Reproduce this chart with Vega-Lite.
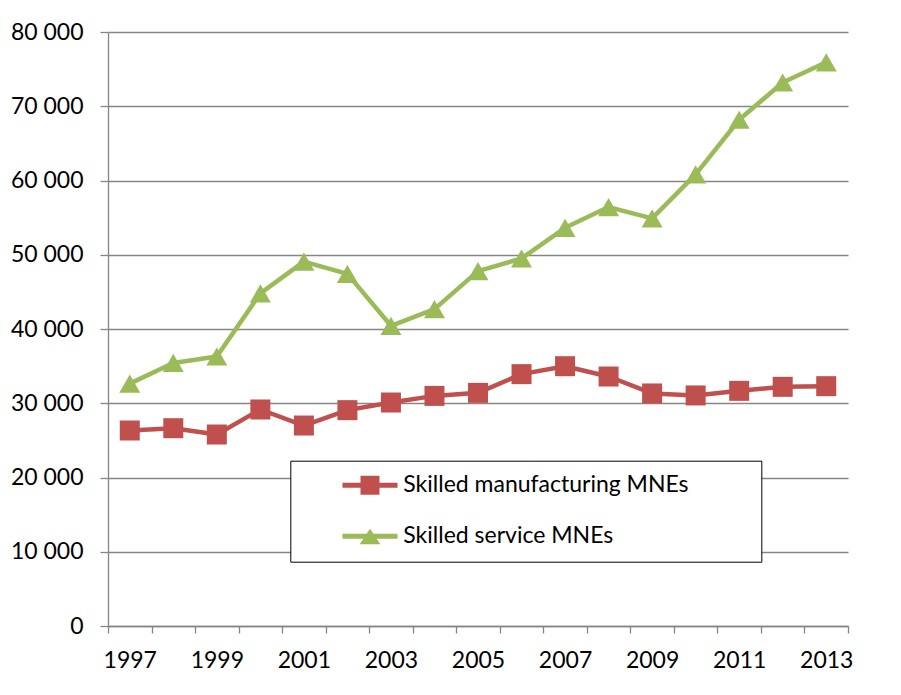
{
  "$schema": "https://vega.github.io/schema/vega-lite/v6.json",
  "width": 740,
  "height": 594,
  "autosize": {"type": "none"},
  "padding": {"left": 108, "top": 32, "right": 53, "bottom": 69},
  "background": "white",
  "config": {
    "view": {"stroke": null},
    "font": "Lato",
    "locale": {"number": {"decimal": ".", "thousands": " ", "grouping": [3], "currency": ["", ""]}},
    "legend": {
      "orient": "none",
      "legendX": 182.3,
      "legendY": 428.7,
      "padding": 13,
      "strokeColor": "black",
      "fillColor": "white",
      "symbolSize": 400,
      "symbolStrokeWidth": 0,
      "symbolOpacity": 1,
      "labelOffset": 77,
      "labelFontSize": 23,
      "labelColor": "black",
      "labelLimit": 600,
      "rowPadding": 27
    }
  },
  "data": {
    "values": [
      {"year": 1997, "series": "Skilled manufacturing MNEs", "value": 26330},
      {"year": 1998, "series": "Skilled manufacturing MNEs", "value": 26640},
      {"year": 1999, "series": "Skilled manufacturing MNEs", "value": 25790},
      {"year": 2000, "series": "Skilled manufacturing MNEs", "value": 29160},
      {"year": 2001, "series": "Skilled manufacturing MNEs", "value": 27000},
      {"year": 2002, "series": "Skilled manufacturing MNEs", "value": 29070},
      {"year": 2003, "series": "Skilled manufacturing MNEs", "value": 30100},
      {"year": 2004, "series": "Skilled manufacturing MNEs", "value": 30990},
      {"year": 2005, "series": "Skilled manufacturing MNEs", "value": 31400},
      {"year": 2006, "series": "Skilled manufacturing MNEs", "value": 33920},
      {"year": 2007, "series": "Skilled manufacturing MNEs", "value": 34990},
      {"year": 2008, "series": "Skilled manufacturing MNEs", "value": 33600},
      {"year": 2009, "series": "Skilled manufacturing MNEs", "value": 31320},
      {"year": 2010, "series": "Skilled manufacturing MNEs", "value": 31050},
      {"year": 2011, "series": "Skilled manufacturing MNEs", "value": 31670},
      {"year": 2012, "series": "Skilled manufacturing MNEs", "value": 32210},
      {"year": 2013, "series": "Skilled manufacturing MNEs", "value": 32300},
      {"year": 1997, "series": "Skilled service MNEs", "value": 32640},
      {"year": 1998, "series": "Skilled service MNEs", "value": 35430},
      {"year": 1999, "series": "Skilled service MNEs", "value": 36300},
      {"year": 2000, "series": "Skilled service MNEs", "value": 44790},
      {"year": 2001, "series": "Skilled service MNEs", "value": 49080},
      {"year": 2002, "series": "Skilled service MNEs", "value": 47430},
      {"year": 2003, "series": "Skilled service MNEs", "value": 40430},
      {"year": 2004, "series": "Skilled service MNEs", "value": 42680},
      {"year": 2005, "series": "Skilled service MNEs", "value": 47800},
      {"year": 2006, "series": "Skilled service MNEs", "value": 49500},
      {"year": 2007, "series": "Skilled service MNEs", "value": 53630},
      {"year": 2008, "series": "Skilled service MNEs", "value": 56420},
      {"year": 2009, "series": "Skilled service MNEs", "value": 54900},
      {"year": 2010, "series": "Skilled service MNEs", "value": 60820},
      {"year": 2011, "series": "Skilled service MNEs", "value": 68180},
      {"year": 2012, "series": "Skilled service MNEs", "value": 73200},
      {"year": 2013, "series": "Skilled service MNEs", "value": 75920}
    ]
  },
  "encoding": {
    "x": {
      "field": "year",
      "type": "quantitative",
      "scale": {"domain": [1996.5, 2013.5], "nice": false, "zero": false},
      "axis": {
        "title": null,
        "values": [1996.5, 1997.5, 1998.5, 1999.5, 2000.5, 2001.5, 2002.5, 2003.5, 2004.5, 2005.5, 2006.5, 2007.5, 2008.5, 2009.5, 2010.5, 2011.5, 2012.5, 2013.5],
        "labelExpr": "(datum.value + 0.5) % 2 == 1 && datum.value < 2013 ? '' + (datum.value + 0.5) : ''",
        "labelOffset": 21.76,
        "grid": false,
        "domainColor": "#868686",
        "domainWidth": 1.3,
        "tickColor": "#868686",
        "tickWidth": 1.3,
        "tickSize": 7,
        "labelFontSize": 23,
        "labelColor": "black",
        "labelPadding": 16,
        "labelOverlap": false,
        "labelFlush": false,
        "labelBound": false
      }
    },
    "y": {
      "field": "value",
      "type": "quantitative",
      "scale": {"domain": [0, 80000], "nice": false},
      "axis": {
        "title": null,
        "values": [0, 10000, 20000, 30000, 40000, 50000, 60000, 70000, 80000],
        "format": ",d",
        "grid": true,
        "gridColor": "#868686",
        "gridWidth": 1.3,
        "domainColor": "#868686",
        "domainWidth": 1.3,
        "tickColor": "#868686",
        "tickWidth": 1.3,
        "tickSize": 8,
        "labelFontSize": 23,
        "labelColor": "black",
        "labelPadding": 17
      }
    },
    "color": {
      "field": "series",
      "type": "nominal",
      "scale": {"domain": ["Skilled manufacturing MNEs", "Skilled service MNEs"], "range": ["#C0504D", "#9BBB59"]},
      "legend": {"title": null, "encode": {"legend": {"strokeWidth": {"value": 2}}}}
    }
  },
  "layer": [
    {"mark": {"type": "line", "strokeWidth": 4.5, "strokeJoin": "round", "strokeCap": "round"}},
    {
      "transform": [{"filter": "datum.series === 'Skilled manufacturing MNEs'"}],
      "mark": {"type": "point", "filled": true, "opacity": 1, "size": 400, "shape": "square"}
    },
    {
      "transform": [{"filter": "datum.series === 'Skilled service MNEs'"}],
      "mark": {"type": "point", "filled": true, "opacity": 1, "size": 440, "shape": "triangle-up"}
    },
    {
      "mark": {"type": "point", "filled": true, "opacity": 0, "size": 400},
      "encoding": {
        "shape": {
          "field": "series",
          "type": "nominal",
          "scale": {
            "domain": ["Skilled manufacturing MNEs", "Skilled service MNEs"],
            "range": [
              "M-1,0M2.77,-0.25H8.27V0.25H2.77ZM4.57,-0.95H6.47V0.95H4.57ZM43.27,0",
              "M-1,0M2.77,-0.25H8.27V0.25H2.77ZM5.52,-0.75L6.55,0.8L4.49,0.8ZM43.27,0"
            ]
          },
          "legend": {"title": null, "encode": {"legend": {"strokeWidth": {"value": 2}}}}
        }
      }
    }
  ]
}
